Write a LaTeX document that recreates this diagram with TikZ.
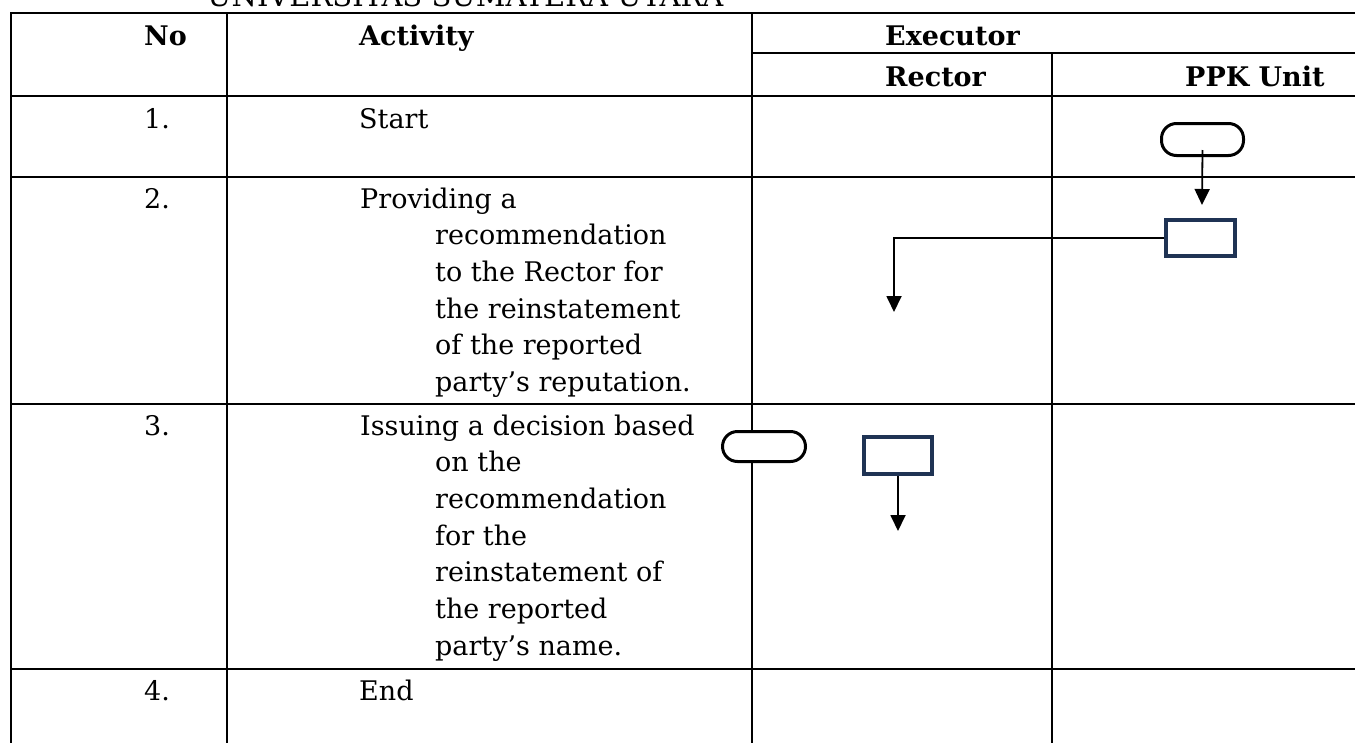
\documentclass[tikz,border=0pt]{standalone}
\usepackage{fontspec}
\setmainfont{DejaVu Serif}
\usetikzlibrary{arrows.meta}
\definecolor{navyline}{HTML}{1F3354}
\begin{document}
\begin{tikzpicture}[x=1pt,y=-1pt,
  grid/.style={line width=2.2pt, black},
  txt/.style={anchor=base west, inner sep=0pt, font=\fontsize{27}{36.7}\selectfont},
  hdr/.style={anchor=base west, inner sep=0pt, font=\fontsize{27}{36.7}\selectfont\bfseries},
  pill/.style={draw=black, fill=white, line width=3pt, rounded corners=15pt, minimum width=82pt, minimum height=32pt, inner sep=0pt},
  procbox/.style={draw=navyline, fill=white, line width=4pt, minimum width=69pt, minimum height=36pt, inner sep=0pt},
  flow/.style={line width=1.8pt, black, -{Triangle[length=16pt,width=15pt]}},
]
\useasboundingbox (0,0) rectangle (1355,742);
% table grid
\draw[grid] (11,760) -- (11,13) -- (1370,13);
\draw[grid] (752,53) -- (1370,53);
\draw[grid] (11,96) -- (1370,96);
\draw[grid] (11,177) -- (1370,177);
\draw[grid] (11,404) -- (1370,404);
\draw[grid] (11,669) -- (1370,669);
\draw[grid] (227,13) -- (227,760);
\draw[grid] (752,13) -- (752,760);
\draw[grid] (1052,53) -- (1052,760);
% title (cut off at top)
\node[txt, font=\fontsize{29}{34}\selectfont] (title) at (207,6) {UNIVERSITAS SUMATERA UTARA};
% headers
\node[hdr] (hno) at (144,45) {No};
\node[hdr] (hact) at (359,45) {Activity};
\node[hdr] (hexe) at (885,45) {Executor};
\node[hdr] (hrec) at (885,86) {Rector};
\node[hdr] (hppk) at (1185,86) {PPK Unit};
% rows
\node[txt] (n1) at (144,128) {1.};
\node[txt] (a1) at (359,128) {Start};
\node[txt] (n2) at (144,208) {2.};
\foreach \t [count=\i from 0] in {Providing a, recommendation, to the Rector for, the reinstatement, of the reported, party’s reputation.}
  \node[txt] (a2-\i) at ({ifthenelse(\i==0,360,435)}, {208+36.7*\i}) {\t};
\node[txt] (n3) at (144,435) {3.};
\foreach \t [count=\i from 0] in {Issuing a decision based, on the, recommendation, for the, reinstatement of, the reported, party’s name.}
  \node[txt] (a3-\i) at ({ifthenelse(\i==0,360,435)}, {435+36.7*\i}) {\t};
\node[txt] (n4) at (144,700) {4.};
\node[txt] (a4) at (359,700) {End};
% flow shapes
\node[pill] (p1) at (1202.5,139.5) {};
\node[procbox] (b1) at (1200.5,238) {};
\node[pill, minimum width=83pt, minimum height=30pt] (p2) at (764,446.5) {};
\node[procbox, minimum width=68pt, minimum height=37pt] (b2) at (898,455.5) {};
\coordinate (e2) at (894,312);
\coordinate (e3) at (898,531);
% connectors
\draw[flow] ([yshift=7pt]p1.south) -- ([xshift=1.5pt,yshift=13pt]b1.north);
\draw[flow] (b1.west) -| (e2);
\draw[flow] (b2.south) -- (e3);
\end{tikzpicture}
\end{document}
